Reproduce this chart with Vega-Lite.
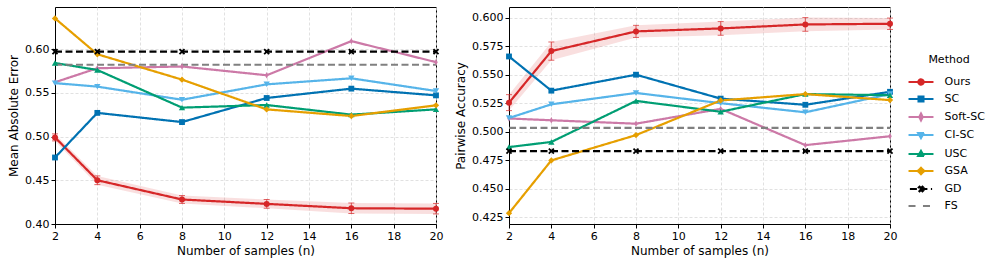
{
  "$schema": "https://vega.github.io/schema/vega-lite/v6.json",
  "padding": {"left": 7, "top": 6, "right": 2, "bottom": 2},
  "background": "white",
  "config": {
    "font": "DejaVu Sans",
    "view": {"stroke": "black", "strokeWidth": 1},
    "axis": {
      "labelFont": "DejaVu Sans", "labelFontSize": 11, "labelColor": "black",
      "titleFont": "DejaVu Sans", "titleFontSize": 12, "titleFontWeight": "normal", "titleColor": "black",
      "domainColor": "black", "tickColor": "black", "tickSize": 4, "labelPadding": 2, "titlePadding": 4,
      "gridColor": "#d9d9d9", "gridDash": [3, 2], "gridWidth": 0.8, "labelFlush": false
    },
    "legend": {
      "labelFont": "DejaVu Sans", "labelFontSize": 11, "labelColor": "black",
      "titleFont": "DejaVu Sans", "titleFontSize": 11, "titleFontWeight": "normal", "titleColor": "black"
    }
  },
  "datasets": {
    "mae": [
      {"n": 2, "Method": "Ours", "v": 0.499, "lo": 0.495, "hi": 0.503},
      {"n": 4, "Method": "Ours", "v": 0.450, "lo": 0.445, "hi": 0.455},
      {"n": 8, "Method": "Ours", "v": 0.428, "lo": 0.4235, "hi": 0.4325},
      {"n": 12, "Method": "Ours", "v": 0.423, "lo": 0.418, "hi": 0.428},
      {"n": 16, "Method": "Ours", "v": 0.418, "lo": 0.412, "hi": 0.424},
      {"n": 20, "Method": "Ours", "v": 0.4175, "lo": 0.4115, "hi": 0.4235},
      {"n": 2, "Method": "SC", "v": 0.476},
      {"n": 4, "Method": "SC", "v": 0.527},
      {"n": 8, "Method": "SC", "v": 0.5165},
      {"n": 12, "Method": "SC", "v": 0.544},
      {"n": 16, "Method": "SC", "v": 0.5547},
      {"n": 20, "Method": "SC", "v": 0.547},
      {"n": 2, "Method": "Soft-SC", "v": 0.562},
      {"n": 4, "Method": "Soft-SC", "v": 0.578},
      {"n": 8, "Method": "Soft-SC", "v": 0.580},
      {"n": 12, "Method": "Soft-SC", "v": 0.570},
      {"n": 16, "Method": "Soft-SC", "v": 0.609},
      {"n": 20, "Method": "Soft-SC", "v": 0.585},
      {"n": 2, "Method": "CI-SC", "v": 0.561},
      {"n": 4, "Method": "CI-SC", "v": 0.557},
      {"n": 8, "Method": "CI-SC", "v": 0.542},
      {"n": 12, "Method": "CI-SC", "v": 0.5596},
      {"n": 16, "Method": "CI-SC", "v": 0.5665},
      {"n": 20, "Method": "CI-SC", "v": 0.552},
      {"n": 2, "Method": "USC", "v": 0.584},
      {"n": 4, "Method": "USC", "v": 0.576},
      {"n": 8, "Method": "USC", "v": 0.533},
      {"n": 12, "Method": "USC", "v": 0.536},
      {"n": 16, "Method": "USC", "v": 0.525},
      {"n": 20, "Method": "USC", "v": 0.531},
      {"n": 2, "Method": "GSA", "v": 0.635},
      {"n": 4, "Method": "GSA", "v": 0.594},
      {"n": 8, "Method": "GSA", "v": 0.565},
      {"n": 12, "Method": "GSA", "v": 0.531},
      {"n": 16, "Method": "GSA", "v": 0.5234},
      {"n": 20, "Method": "GSA", "v": 0.5356},
      {"n": 2, "Method": "GD", "v": 0.597},
      {"n": 4, "Method": "GD", "v": 0.597},
      {"n": 8, "Method": "GD", "v": 0.597},
      {"n": 12, "Method": "GD", "v": 0.597},
      {"n": 16, "Method": "GD", "v": 0.597},
      {"n": 20, "Method": "GD", "v": 0.597},
      {"n": 2, "Method": "FS", "v": 0.582},
      {"n": 20, "Method": "FS", "v": 0.582}
    ],
    "acc": [
      {"n": 2, "Method": "Ours", "v": 0.5254, "lo": 0.5185, "hi": 0.5325},
      {"n": 4, "Method": "Ours", "v": 0.5707, "lo": 0.5627, "hi": 0.5787},
      {"n": 8, "Method": "Ours", "v": 0.588, "lo": 0.5827, "hi": 0.5933},
      {"n": 12, "Method": "Ours", "v": 0.5906, "lo": 0.5846, "hi": 0.5966},
      {"n": 16, "Method": "Ours", "v": 0.5941, "lo": 0.5881, "hi": 0.6001},
      {"n": 20, "Method": "Ours", "v": 0.5947, "lo": 0.5897, "hi": 0.5997},
      {"n": 2, "Method": "SC", "v": 0.566},
      {"n": 4, "Method": "SC", "v": 0.536},
      {"n": 8, "Method": "SC", "v": 0.550},
      {"n": 12, "Method": "SC", "v": 0.529},
      {"n": 16, "Method": "SC", "v": 0.5236},
      {"n": 20, "Method": "SC", "v": 0.535},
      {"n": 2, "Method": "Soft-SC", "v": 0.5116},
      {"n": 4, "Method": "Soft-SC", "v": 0.510},
      {"n": 8, "Method": "Soft-SC", "v": 0.507},
      {"n": 12, "Method": "Soft-SC", "v": 0.520},
      {"n": 16, "Method": "Soft-SC", "v": 0.4882},
      {"n": 20, "Method": "Soft-SC", "v": 0.496},
      {"n": 2, "Method": "CI-SC", "v": 0.512},
      {"n": 4, "Method": "CI-SC", "v": 0.524},
      {"n": 8, "Method": "CI-SC", "v": 0.534},
      {"n": 12, "Method": "CI-SC", "v": 0.525},
      {"n": 16, "Method": "CI-SC", "v": 0.517},
      {"n": 20, "Method": "CI-SC", "v": 0.533},
      {"n": 2, "Method": "USC", "v": 0.4865},
      {"n": 4, "Method": "USC", "v": 0.491},
      {"n": 8, "Method": "USC", "v": 0.527},
      {"n": 12, "Method": "USC", "v": 0.5175},
      {"n": 16, "Method": "USC", "v": 0.533},
      {"n": 20, "Method": "USC", "v": 0.532},
      {"n": 2, "Method": "GSA", "v": 0.4285},
      {"n": 4, "Method": "GSA", "v": 0.4748},
      {"n": 8, "Method": "GSA", "v": 0.497},
      {"n": 12, "Method": "GSA", "v": 0.5274},
      {"n": 16, "Method": "GSA", "v": 0.533},
      {"n": 20, "Method": "GSA", "v": 0.5277},
      {"n": 2, "Method": "GD", "v": 0.483},
      {"n": 4, "Method": "GD", "v": 0.483},
      {"n": 8, "Method": "GD", "v": 0.483},
      {"n": 12, "Method": "GD", "v": 0.483},
      {"n": 16, "Method": "GD", "v": 0.483},
      {"n": 20, "Method": "GD", "v": 0.483},
      {"n": 2, "Method": "FS", "v": 0.5034},
      {"n": 20, "Method": "FS", "v": 0.5034}
    ]
  },
  "spacing": 10,
  "resolve": {"scale": {"color": "shared", "strokeDash": "shared"}, "legend": {"color": "shared"}},
  "hconcat": [
    {
      "width": 381, "height": 217,
      "data": {"name": "mae"},
      "encoding": {
        "x": {"field": "n", "type": "quantitative", "scale": {"domain": [2, 20], "nice": false, "zero": false},
              "axis": {"values": [2, 4, 6, 8, 10, 12, 14, 16, 18, 20], "title": "Number of samples (n)"}},
        "y": {"field": "v", "type": "quantitative", "scale": {"domain": [0.4, 0.648], "nice": false, "zero": false},
              "axis": {"values": [0.4, 0.45, 0.5, 0.55, 0.6], "format": ".2f", "title": "Mean Absolute Error"}}
      },
      "layer": [
        {
          "transform": [{"filter": "datum.Method == 'Ours'"}],
          "mark": {"type": "area", "color": "#d62728", "opacity": 0.15},
          "encoding": {
            "y": {"field": "lo", "type": "quantitative", "scale": {"domain": [0.4, 0.648], "nice": false, "zero": false},
                  "axis": {"values": [0.4, 0.45, 0.5, 0.55, 0.6], "format": ".2f", "title": "Mean Absolute Error"}},
            "y2": {"field": "hi"}
          }
        },
        {
          "mark": {"type": "line", "strokeWidth": 2.2},
          "encoding": {
            "color": {"field": "Method", "type": "nominal",
              "scale": {"domain": ["Ours", "SC", "Soft-SC", "CI-SC", "USC", "GSA", "GD", "FS"],
                        "range": ["#d62728", "#0072b2", "#cc79a7", "#56b4e9", "#009e73", "#e69f00", "#000000", "#808080"]},
              "legend": {
                "orient": "none", "legendX": 859, "legendY": 47, "title": "Method",
                "titleAnchor": "middle", "titlePadding": 10,
                "symbolSize": 144, "symbolStrokeWidth": 2, "symbolOpacity": 1,
                "labelOffset": 16.5, "rowPadding": 3,
                "encoding": {
                  "symbols": {
                    "shape": {"value": {"expr": "{'Ours':'M-2.08,0H2.08M0.45,0A0.45,0.45 0 1 1 -0.45,0A0.45,0.45 0 1 1 0.45,0Z','SC':'M-2.08,0H2.08M-0.42,-0.42H0.42V0.42H-0.42Z','Soft-SC':'M-2.08,0H2.08M0,-0.6L0.3,0L0,0.6L-0.3,0Z','CI-SC':'M-2.08,0H2.08M-0.5,-0.33H0.5L0,0.53Z','USC':'M-2.08,0H2.08M-0.5,0.33H0.5L0,-0.53Z','GSA':'M-2.08,0H2.08M0,-0.55L0.55,0L0,0.55L-0.55,0Z','GD':'M-1.85,0H1.85M-0.4,-0.24L-0.24,-0.4L0,-0.16L0.24,-0.4L0.4,-0.24L0.16,0L0.4,0.24L0.24,0.4L0,0.16L-0.24,0.4L-0.4,0.24L-0.16,0Z','FS':'M-2.08,0H-0.33M0.33,0H2.08'}[datum.value]"}},
                    "fill": {"value": {"expr": "scale('color', datum.value)"}},
                    "stroke": {"value": {"expr": "scale('color', datum.value)"}},
                    "strokeWidth": {"value": 2},
                    "strokeDash": {"value": [1, 0]},
                    "opacity": {"value": 1}
                  }
                }
              }
            },
            "strokeDash": {"field": "Method", "type": "nominal",
              "scale": {"domain": ["Ours", "SC", "Soft-SC", "CI-SC", "USC", "GSA", "GD", "FS"],
                        "range": [[1, 0], [1, 0], [1, 0], [1, 0], [1, 0], [1, 0], [7, 3.5], [7, 3.5]]},
              "legend": null}
          }
        },
        {"transform": [{"filter": "datum.Method == 'Ours'"}], "mark": {"type": "point", "filled": true, "opacity": 1, "size": 36, "shape": "circle", "color": "#d62728"}},
        {"transform": [{"filter": "datum.Method == 'SC'"}], "mark": {"type": "point", "filled": true, "opacity": 1, "size": 34, "shape": "square", "color": "#0072b2"}},
        {"transform": [{"filter": "datum.Method == 'Soft-SC'"}], "mark": {"type": "point", "filled": true, "opacity": 1, "size": 40, "shape": "M0,-1L0.55,0L0,1L-0.55,0Z", "color": "#cc79a7"}},
        {"transform": [{"filter": "datum.Method == 'CI-SC'"}], "mark": {"type": "point", "filled": true, "opacity": 1, "size": 40, "shape": "triangle-down", "color": "#56b4e9"}},
        {"transform": [{"filter": "datum.Method == 'USC'"}], "mark": {"type": "point", "filled": true, "opacity": 1, "size": 40, "shape": "triangle-up", "color": "#009e73"}},
        {"transform": [{"filter": "datum.Method == 'GSA'"}], "mark": {"type": "point", "filled": true, "opacity": 1, "size": 40, "shape": "diamond", "color": "#e69f00"}},
        {"transform": [{"filter": "datum.Method == 'GD'"}], "mark": {"type": "point", "filled": true, "opacity": 1, "size": 40, "shape": "M-1,-0.6L-0.6,-1L0,-0.4L0.6,-1L1,-0.6L0.4,0L1,0.6L0.6,1L0,0.4L-0.6,1L-1,0.6L-0.4,0Z", "color": "#000000"}},
        {
          "transform": [{"filter": "datum.Method == 'Ours'"}],
          "mark": {"type": "rule", "color": "#d62728", "opacity": 0.7, "strokeWidth": 1},
          "encoding": {
            "y": {"field": "lo", "type": "quantitative", "scale": {"domain": [0.4, 0.648], "nice": false, "zero": false},
                  "axis": {"values": [0.4, 0.45, 0.5, 0.55, 0.6], "format": ".2f", "title": "Mean Absolute Error"}},
            "y2": {"field": "hi"}
          }
        },
        {
          "transform": [{"filter": "datum.Method == 'Ours'"}],
          "mark": {"type": "tick", "orient": "horizontal", "color": "#d62728", "opacity": 0.7, "size": 6, "thickness": 1},
          "encoding": {
            "y": {"field": "lo", "type": "quantitative", "scale": {"domain": [0.4, 0.648], "nice": false, "zero": false},
                  "axis": {"values": [0.4, 0.45, 0.5, 0.55, 0.6], "format": ".2f", "title": "Mean Absolute Error"}}
          }
        },
        {
          "transform": [{"filter": "datum.Method == 'Ours'"}],
          "mark": {"type": "tick", "orient": "horizontal", "color": "#d62728", "opacity": 0.7, "size": 6, "thickness": 1},
          "encoding": {
            "y": {"field": "hi", "type": "quantitative", "scale": {"domain": [0.4, 0.648], "nice": false, "zero": false},
                  "axis": {"values": [0.4, 0.45, 0.5, 0.55, 0.6], "format": ".2f", "title": "Mean Absolute Error"}}
          }
        }
      ]
    },
    {
      "width": 381, "height": 217,
      "data": {"name": "acc"},
      "encoding": {
        "x": {"field": "n", "type": "quantitative", "scale": {"domain": [2, 20], "nice": false, "zero": false},
              "axis": {"values": [2, 4, 6, 8, 10, 12, 14, 16, 18, 20], "title": "Number of samples (n)"}},
        "y": {"field": "v", "type": "quantitative", "scale": {"domain": [0.419, 0.6094], "nice": false, "zero": false},
              "axis": {"values": [0.425, 0.45, 0.475, 0.5, 0.525, 0.55, 0.575, 0.6], "format": ".3f", "title": "Pairwise Accuracy"}}
      },
      "layer": [
        {
          "transform": [{"filter": "datum.Method == 'Ours'"}],
          "mark": {"type": "area", "color": "#d62728", "opacity": 0.15},
          "encoding": {
            "y": {"field": "lo", "type": "quantitative", "scale": {"domain": [0.419, 0.6094], "nice": false, "zero": false},
                  "axis": {"values": [0.425, 0.45, 0.475, 0.5, 0.525, 0.55, 0.575, 0.6], "format": ".3f", "title": "Pairwise Accuracy"}},
            "y2": {"field": "hi"}
          }
        },
        {
          "mark": {"type": "line", "strokeWidth": 2.2},
          "encoding": {
            "color": {"field": "Method", "type": "nominal",
              "scale": {"domain": ["Ours", "SC", "Soft-SC", "CI-SC", "USC", "GSA", "GD", "FS"],
                        "range": ["#d62728", "#0072b2", "#cc79a7", "#56b4e9", "#009e73", "#e69f00", "#000000", "#808080"]},
              "legend": null},
            "strokeDash": {"field": "Method", "type": "nominal",
              "scale": {"domain": ["Ours", "SC", "Soft-SC", "CI-SC", "USC", "GSA", "GD", "FS"],
                        "range": [[1, 0], [1, 0], [1, 0], [1, 0], [1, 0], [1, 0], [7, 3.5], [7, 3.5]]},
              "legend": null}
          }
        },
        {"transform": [{"filter": "datum.Method == 'Ours'"}], "mark": {"type": "point", "filled": true, "opacity": 1, "size": 36, "shape": "circle", "color": "#d62728"}},
        {"transform": [{"filter": "datum.Method == 'SC'"}], "mark": {"type": "point", "filled": true, "opacity": 1, "size": 34, "shape": "square", "color": "#0072b2"}},
        {"transform": [{"filter": "datum.Method == 'Soft-SC'"}], "mark": {"type": "point", "filled": true, "opacity": 1, "size": 40, "shape": "M0,-1L0.55,0L0,1L-0.55,0Z", "color": "#cc79a7"}},
        {"transform": [{"filter": "datum.Method == 'CI-SC'"}], "mark": {"type": "point", "filled": true, "opacity": 1, "size": 40, "shape": "triangle-down", "color": "#56b4e9"}},
        {"transform": [{"filter": "datum.Method == 'USC'"}], "mark": {"type": "point", "filled": true, "opacity": 1, "size": 40, "shape": "triangle-up", "color": "#009e73"}},
        {"transform": [{"filter": "datum.Method == 'GSA'"}], "mark": {"type": "point", "filled": true, "opacity": 1, "size": 40, "shape": "diamond", "color": "#e69f00"}},
        {"transform": [{"filter": "datum.Method == 'GD'"}], "mark": {"type": "point", "filled": true, "opacity": 1, "size": 40, "shape": "M-1,-0.6L-0.6,-1L0,-0.4L0.6,-1L1,-0.6L0.4,0L1,0.6L0.6,1L0,0.4L-0.6,1L-1,0.6L-0.4,0Z", "color": "#000000"}},
        {
          "transform": [{"filter": "datum.Method == 'Ours'"}],
          "mark": {"type": "rule", "color": "#d62728", "opacity": 0.7, "strokeWidth": 1},
          "encoding": {
            "y": {"field": "lo", "type": "quantitative", "scale": {"domain": [0.419, 0.6094], "nice": false, "zero": false},
                  "axis": {"values": [0.425, 0.45, 0.475, 0.5, 0.525, 0.55, 0.575, 0.6], "format": ".3f", "title": "Pairwise Accuracy"}},
            "y2": {"field": "hi"}
          }
        },
        {
          "transform": [{"filter": "datum.Method == 'Ours'"}],
          "mark": {"type": "tick", "orient": "horizontal", "color": "#d62728", "opacity": 0.7, "size": 6, "thickness": 1},
          "encoding": {
            "y": {"field": "lo", "type": "quantitative", "scale": {"domain": [0.419, 0.6094], "nice": false, "zero": false},
                  "axis": {"values": [0.425, 0.45, 0.475, 0.5, 0.525, 0.55, 0.575, 0.6], "format": ".3f", "title": "Pairwise Accuracy"}}
          }
        },
        {
          "transform": [{"filter": "datum.Method == 'Ours'"}],
          "mark": {"type": "tick", "orient": "horizontal", "color": "#d62728", "opacity": 0.7, "size": 6, "thickness": 1},
          "encoding": {
            "y": {"field": "hi", "type": "quantitative", "scale": {"domain": [0.419, 0.6094], "nice": false, "zero": false},
                  "axis": {"values": [0.425, 0.45, 0.475, 0.5, 0.525, 0.55, 0.575, 0.6], "format": ".3f", "title": "Pairwise Accuracy"}}
          }
        }
      ]
    }
  ]
}
